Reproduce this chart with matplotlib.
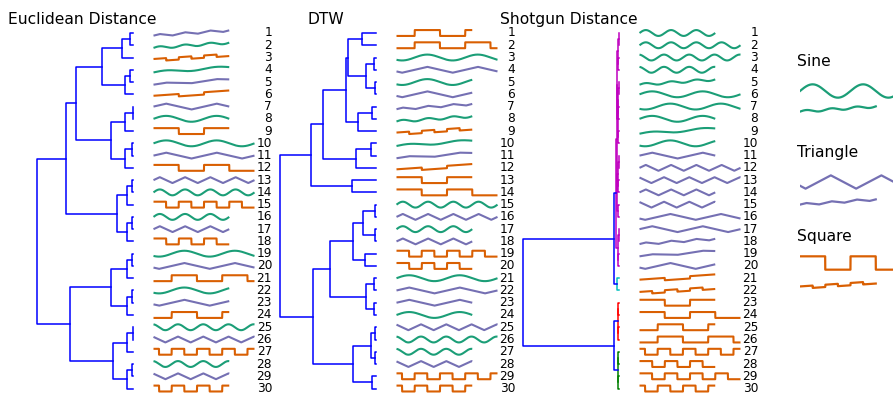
import numpy as np
import matplotlib
matplotlib.use("Agg")
import matplotlib.pyplot as plt

# 30 synthetic series, grouped by shape (sine / triangle / square)
kinds = ["sin"] * 10 + ["tri"] * 10 + ["sq"] * 10
periods = [.5, .5, .5, .5, .5, 1, 1, 1, 1, 1,
           1, .5, .5, .5, .5, 1, 1, .5, 1, 1,
           1, .5, 1, 1, 1, 1, .5, .5, .5, .5]
lengths = [1.5, 2, 2, 1.5, 1.5, 2, 2, 1.5, 1.5, 1.5,
           1.5, 2, 2, 1.5, 1.5, 2, 2, 1.5, 1.5, 1.5,
           1.5, 1.5, 1.5, 2, 1.5, 2, 2, 1.5, 2, 1.5]
shifts = [0, 0, .36, .36, 0, 0, .36, 0, 0, .36,
          0, 0, .36, 0, .36, .36, 0, 0, 0, .36,
          0, 0, 0, 0, .36, .36, .36, 0, 0, .36]
trends = [0, 0, 0, 0, 1, 0, 0, 0, 1, 0,
          0, 0, 0, 0, 0, 0, 0, 1, 1, 0,
          1, 1, 0, 0, 0, 0, 0, 0, 0, 0]

# leaf order of each dendrogram (series ids, 1-based)
euclid_order = [18, 5, 22, 9, 19, 21, 11, 8, 23, 6, 17, 24, 12, 2, 29,
                1, 14, 28, 7, 16, 26, 10, 20, 25, 3, 13, 27, 4, 15, 30]
dtw_order = [25, 26, 7, 16, 10, 20, 18, 5, 22, 9, 19, 21, 23, 24, 2,
             12, 1, 14, 29, 28, 6, 17, 11, 8, 13, 3, 4, 15, 27, 30]
shotgun_order = list(range(1, 31))

# linkages: (left, right, height); ids < 30 are leaf positions, 30+k is merge k
euclid_links = [
    (0, 1, 3), (30, 2, 11), (3, 4, 3), (32, 5, 8), (31, 33, 31),
    (6, 7, 0.5), (35, 8, 8), (9, 10, 1), (37, 11, 8), (36, 38, 22),
    (34, 39, 57), (12, 13, 1), (41, 14, 6), (15, 16, 1), (43, 17, 6),
    (42, 44, 16), (40, 45, 67), (18, 19, 1), (47, 20, 6), (21, 22, 1),
    (49, 23, 6), (48, 50, 22), (24, 25, 0.5), (52, 26, 6), (27, 28, 1),
    (54, 29, 6), (53, 55, 20), (51, 56, 63), (46, 57, 96),
]
dtw_links = [
    (0, 1, 14), (2, 3, 2), (4, 5, 1), (31, 32, 10), (30, 33, 28),
    (6, 7, 4), (35, 8, 18), (34, 36, 30), (9, 10, 5), (38, 11, 20),
    (37, 39, 53), (12, 13, 24), (40, 41, 65), (14, 15, 1), (16, 17, 1),
    (43, 44, 13), (18, 19, 11), (45, 46, 23), (20, 21, 2), (22, 23, 2),
    (48, 49, 10), (47, 50, 46), (24, 25, 1), (26, 27, 1), (52, 53, 5),
    (28, 29, 4), (54, 55, 23), (51, 56, 63), (42, 57, 96),
]
shotgun_links = [
    (0, 1, 0.5), (2, 3, 0.6), (30, 31, 1.2), (4, 5, 0.5), (6, 7, 0.7),
    (33, 34, 1.0), (8, 9, 0.6), (35, 36, 1.4), (32, 37, 1.8), (10, 11, 0.5),
    (12, 13, 0.7), (39, 40, 1.1), (14, 15, 0.6), (41, 42, 1.6), (38, 43, 2.2),
    (16, 17, 0.5), (18, 19, 0.8), (45, 46, 1.3), (44, 47, 2.8), (20, 21, 2.0),
    (48, 49, 5), (22, 23, 0.8), (24, 25, 1.0), (51, 52, 1.5), (26, 27, 0.7),
    (28, 29, 0.9), (54, 55, 1.4), (53, 56, 5), (50, 57, 96),
]

panel_titles = ["Euclidean Distance", "DTW", "Shotgun Distance"]
legend_names = ["Sine", "Triangle", "Square"]
legend_kinds = ["sin", "tri", "sq"]
legend_shifts = [0, .36, 0]

colors = {"sin": "#1b9e77", "tri": "#7570b3", "sq": "#d95f02"}
cluster_palette = ["g", "r", "c", "m"]


def wave(kind, period, length, shift, trend, n=800):
    t = np.linspace(0, length, n)
    ph = 2 * np.pi * (t - shift) / period
    if kind == "sin":
        w = np.sin(ph)
    elif kind == "tri":
        w = 2 / np.pi * np.arcsin(np.sin(ph))
    else:
        w = np.where(np.sin(ph) >= 0, 1.0, -1.0)
    if trend:
        w = 0.4 * w + 1.8 * (t / length - 0.5)
    return t, w


def draw_dendro(ax, links, thr=None):
    n = len(links) + 1
    pos = [float(i) for i in range(n)]
    hgt = [0.0] * n
    members = [[i] for i in range(n)]
    parent = {}
    for k, (a, b, h) in enumerate(links):
        pos.append((pos[a] + pos[b]) / 2)
        hgt.append(h)
        members.append(members[a] + members[b])
        parent[a] = n + k
        parent[b] = n + k

    link_colors = ["b"] * len(links)
    if thr is not None:
        top = {}
        for k in reversed(range(len(links))):
            if links[k][2] < thr:
                p = parent.get(n + k)
                if p is not None and links[p - n][2] < thr:
                    top[k] = top[p - n]
                else:
                    top[k] = k
        clusters = sorted(set(top.values()), key=lambda c: -max(members[n + c]))
        cmap = {c: cluster_palette[i % len(cluster_palette)] for i, c in enumerate(clusters)}
        link_colors = [cmap[top[k]] if k in top else "b" for k in range(len(links))]

    for k, (a, b, h) in enumerate(links):
        ax.plot([hgt[a], h, h, hgt[b]], [pos[a], pos[a], pos[b], pos[b]],
                color=link_colors[k], lw=1.1, clip_on=False)
    ax.set_xlim(1.05 * max(l[2] for l in links), 0)
    ax.set_ylim(n - 0.5, -0.5)
    ax.axis("off")


W, H = 893, 396
fig = plt.figure(figsize=(W / 100, H / 100), dpi=100)


def px_axes(x0, x1, y0, y1):
    return fig.add_axes([x0 / W, 1 - y1 / H, (x1 - x0) / W, (y1 - y0) / H])


leaf_top, leaf_step = 33.0, 12.26
ytop = leaf_top - leaf_step / 2
ybot = leaf_top + 29.5 * leaf_step
amp = 0.24

panels = [(euclid_order, euclid_links, None),
          (dtw_order, dtw_links, None),
          (shotgun_order, shotgun_links, 3)]

for p, (order, links, thr) in enumerate(panels):
    off = 243 * p
    dax = px_axes(32.2 + off, 133 + off, ytop, ybot)
    draw_dendro(dax, links, thr)
    dax.set_title(panel_titles[p], fontsize=11.2, pad=2.2)

    sax = px_axes(153.5 + off, 254.5 + off, ytop, ybot)
    for i, sid in enumerate(order):
        j = sid - 1
        t, w = wave(kinds[j], periods[j], lengths[j], shifts[j], trends[j])
        sax.plot(t, i - amp * w, color=colors[kinds[j]], lw=1.5,
                 solid_capstyle="butt", clip_on=False)
        sax.annotate(str(i + 1), xy=(1, i), xycoords=("axes fraction", "data"),
                     xytext=(12.6, 0), textcoords="offset points",
                     ha="right", va="center", fontsize=8.7)
    sax.set_xlim(0, 2)
    sax.set_ylim(29.5, -0.5)
    sax.axis("off")

# shape legend on the right
lax = px_axes(800, 901, 0, H)
lax.set_xlim(0, 2)
lax.set_ylim(H, 0)
lax.axis("off")
text_y = [61, 153, 236]
big_y = [91, 182, 263]
small_y = [109, 202, 285]
px_amp = 2.9
for k in range(3):
    lax.text(-0.06, text_y[k], legend_names[k], fontsize=11.2, va="center", ha="left")
    t, w = wave(legend_kinds[k], 1, 2, legend_shifts[k], 0)
    lax.plot(t, big_y[k] - 2.3 * px_amp * w, color=colors[legend_kinds[k]], lw=1.6)
    t, w = wave(legend_kinds[k], .5, 1.5, 0, 1)
    lax.plot(t, small_y[k] - px_amp * w, color=colors[legend_kinds[k]], lw=1.6)

fig.savefig("out.png", dpi=100)
